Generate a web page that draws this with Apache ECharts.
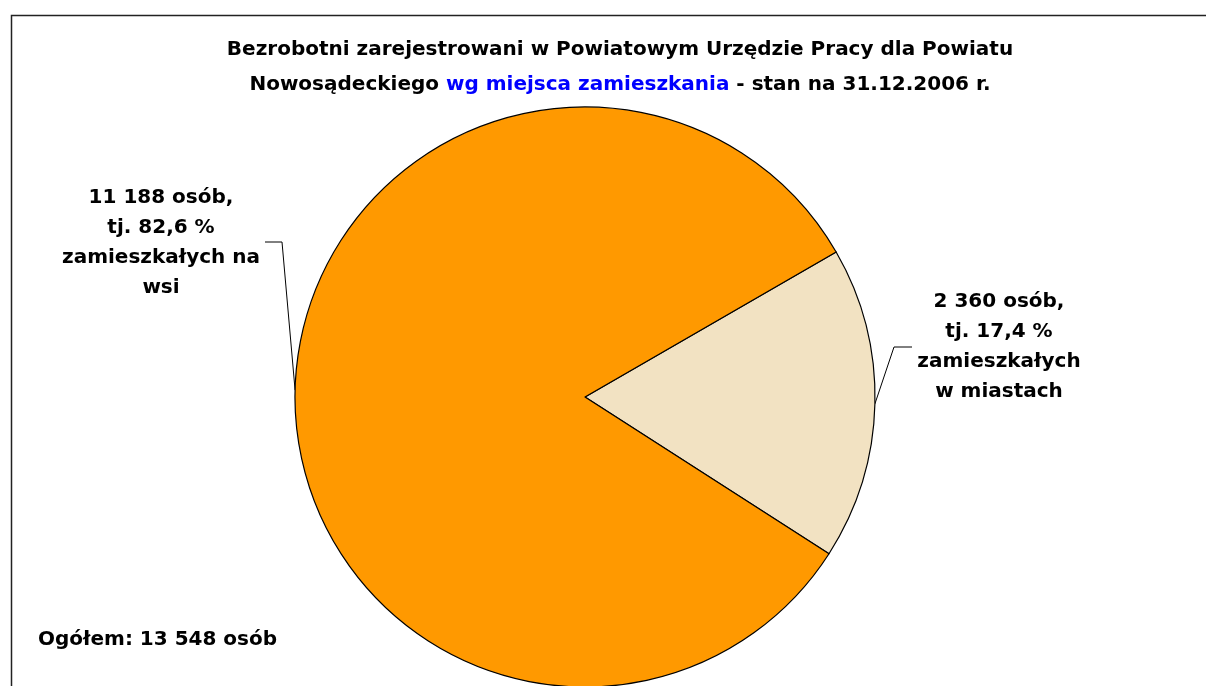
<!DOCTYPE html>
<html>
<head>
<meta charset="utf-8">
<script src="https://cdn.jsdelivr.net/npm/echarts@6/dist/echarts.min.js"></script>
<style>
  html, body { margin: 0; padding: 0; background: #fff; }
  #chart { width: 1206px; height: 686px; }
</style>
</head>
<body>
<div id="chart"></div>
<script>
// dane z wykresu
const categories = ['zamieszkałych w miastach', 'zamieszkałych na wsi'];
const values = [2360, 11188];
const percents = ['17,4', '82,6'];
const labelTails = [['zamieszkałych', 'w miastach'], ['zamieszkałych na', 'wsi']];
const colors = ['#F2E2C2', '#FF9900'];
const total = 13548;

const FONT = 'DejaVu Sans, Arial, sans-serif';

function fmt(n) {
  return String(n).replace(/\B(?=(\d{3})+(?!\d))/g, ' ');
}

// pozycje etykiet (srodek tekstu) i punkty zalamania linii odniesienia
const labelPos = [
  { x: 999, y: 347, bend: [[894, 347], [912, 347]] },
  { x: 161, y: 243, bend: [[282, 242], [265, 242]] }
];

let myChart = echarts.init(document.getElementById('chart'));

let option = {
  animation: false,
  textStyle: { fontFamily: FONT },
  graphic: [
    {
      type: 'rect',
      silent: true,
      shape: { x: 11.5, y: 15.5, width: 1400, height: 900 },
      style: { fill: 'none', stroke: '#222', lineWidth: 1.5 }
    },
    {
      type: 'text',
      silent: true,
      x: 620,
      y: 32,
      style: {
        text: '{a|Bezrobotni zarejestrowani w Powiatowym Urzędzie Pracy dla Powiatu}\n' +
              '{a|Nowosądeckiego }{b|wg miejsca zamieszkania}{a| - stan na 31.12.2006 r.}',
        align: 'center',
        verticalAlign: 'top',
        rich: {
          a: { fontSize: 20, fontWeight: 'bold', fill: '#000', lineHeight: 35, fontFamily: FONT },
          b: { fontSize: 20, fontWeight: 'bold', fill: '#0000FF', lineHeight: 35, fontFamily: FONT }
        }
      }
    },
    {
      type: 'text',
      silent: true,
      x: 38,
      y: 640,
      style: {
        text: 'Ogółem: ' + fmt(total) + ' osób',
        fontSize: 20,
        fontWeight: 'bold',
        fill: '#000',
        verticalAlign: 'middle',
        fontFamily: FONT
      }
    }
  ],
  series: [{
    type: 'pie',
    center: [585, 397],
    radius: 290,
    startAngle: 30,
    clockwise: true,
    silent: true,
    data: categories.map((c, i) => ({
      name: c,
      value: values[i],
      itemStyle: { color: colors[i] }
    })),
    itemStyle: { borderColor: '#000', borderWidth: 1.2 },
    label: {
      show: true,
      position: 'outside',
      color: '#000',
      fontFamily: FONT,
      fontSize: 20,
      fontWeight: 'bold',
      lineHeight: 30,
      align: 'center',
      formatter: (p) => fmt(values[p.dataIndex]) + ' osób,\ntj. ' + percents[p.dataIndex] + ' %\n' +
        labelTails[p.dataIndex].join('\n')
    },
    labelLine: { show: true, lineStyle: { color: '#000', width: 1 } },
    labelLayout: function (params) {
      const lp = labelPos[params.dataIndex];
      const start = params.labelLinePoints ? params.labelLinePoints[0] : null;
      const res = { x: lp.x, y: lp.y, align: 'center', verticalAlign: 'middle' };
      if (start) {
        res.labelLinePoints = [start, lp.bend[0], lp.bend[1]];
      }
      return res;
    }
  }]
};

myChart.setOption(option, true);
</script>
</body>
</html>
